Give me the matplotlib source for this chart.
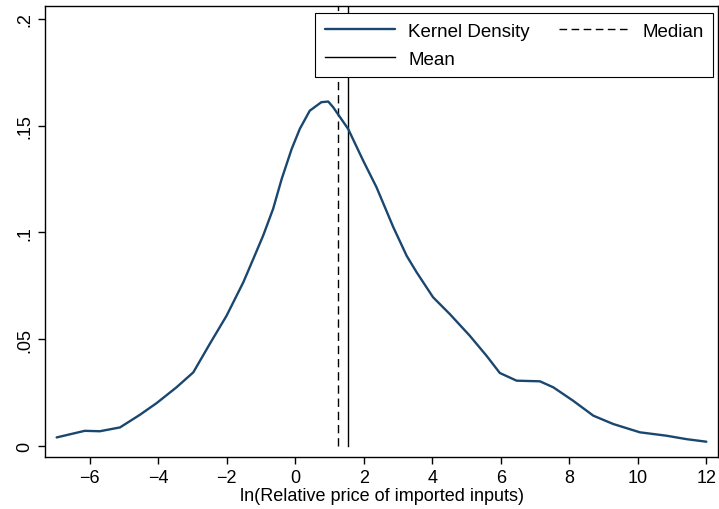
import matplotlib
matplotlib.use("Agg")
import matplotlib.pyplot as plt

plt.rcParams['font.family'] = ['Liberation Sans', 'DejaVu Sans']

x_vals = [-6.97, -6.15, -5.71, -5.12, -4.54, -4.05, -3.47, -2.98, -2.50, -2.01, -1.52,
          -1.23, -0.94, -0.65, -0.40, -0.11, 0.13, 0.42, 0.76, 0.96, 1.10, 1.54, 1.98,
          2.37, 2.86, 3.25, 3.54, 4.02, 4.51, 5.09, 5.58, 5.97, 6.46, 7.14, 7.53, 8.11,
          8.70, 9.28, 10.06, 10.84, 11.42, 12.0]
density = [0.0039, 0.0070, 0.0068, 0.0086, 0.0145, 0.0200, 0.0274, 0.0344, 0.0477, 0.0609,
           0.0766, 0.0875, 0.0985, 0.1110, 0.1250, 0.1390, 0.1485, 0.1570, 0.1610, 0.1613,
           0.1587, 0.1485, 0.1336, 0.1211, 0.1024, 0.0890, 0.0813, 0.0696, 0.0617, 0.0516,
           0.0422, 0.0341, 0.0305, 0.0302, 0.0274, 0.0211, 0.0141, 0.0102, 0.0063, 0.0047,
           0.0031, 0.0019]
median_val = 1.25
mean_val = 1.55
x_ticks = [-6, -4, -2, 0, 2, 4, 6, 8, 10, 12]
y_ticks = [0, 0.05, 0.1, 0.15, 0.2]
y_tick_labels = ["0", ".05", ".1", ".15", ".2"]

ymin, ymax = -0.0054, 0.206

fig = plt.figure(figsize=(7.19, 5.10), dpi=100)
ax = fig.add_axes([0.0626, 0.1014, 0.936, 0.8846])

kd, = ax.plot(x_vals, density, color='#1a476f', lw=1.7, label='Kernel Density',
              zorder=3, solid_joinstyle='round', solid_capstyle='round')
y0 = (0 - ymin) / (ymax - ymin)
ax.axvline(mean_val, ymin=y0, ymax=1, color='black', lw=1.0)
ax.axvline(median_val, ymin=y0, ymax=1, color='black', lw=1.0, ls=(0, (6, 3.5)))

mean_h = plt.Line2D([], [], color='black', lw=1.0, label='Mean')
med_h = plt.Line2D([], [], color='black', lw=1.0, ls=(0, (5.5, 3.2)), label='Median')

ax.set_xlim(-7.31, 12.34)
ax.set_ylim(ymin, ymax)
ax.set_xticks(x_ticks)
ax.set_yticks(y_ticks)
ax.set_yticklabels(y_tick_labels, rotation=90, va='center')
ax.tick_params(axis='both', labelsize=13, length=5, width=1, direction='out')
ax.set_xlabel('ln(Relative price of imported inputs)', fontsize=13, labelpad=1)
for s in ax.spines.values():
    s.set_linewidth(1.0)

leg = ax.legend(handles=[kd, mean_h, med_h], ncol=2, loc='upper right',
                bbox_to_anchor=(0.9926, 0.9845), fontsize=13.5, frameon=True,
                fancybox=False, edgecolor='black', framealpha=1,
                handlelength=3.75, columnspacing=1.55, handletextpad=0.7,
                labelspacing=0.6, borderpad=0.5, borderaxespad=0)
leg.get_frame().set_linewidth(0.8)

fig.savefig('out.png', dpi=100)
